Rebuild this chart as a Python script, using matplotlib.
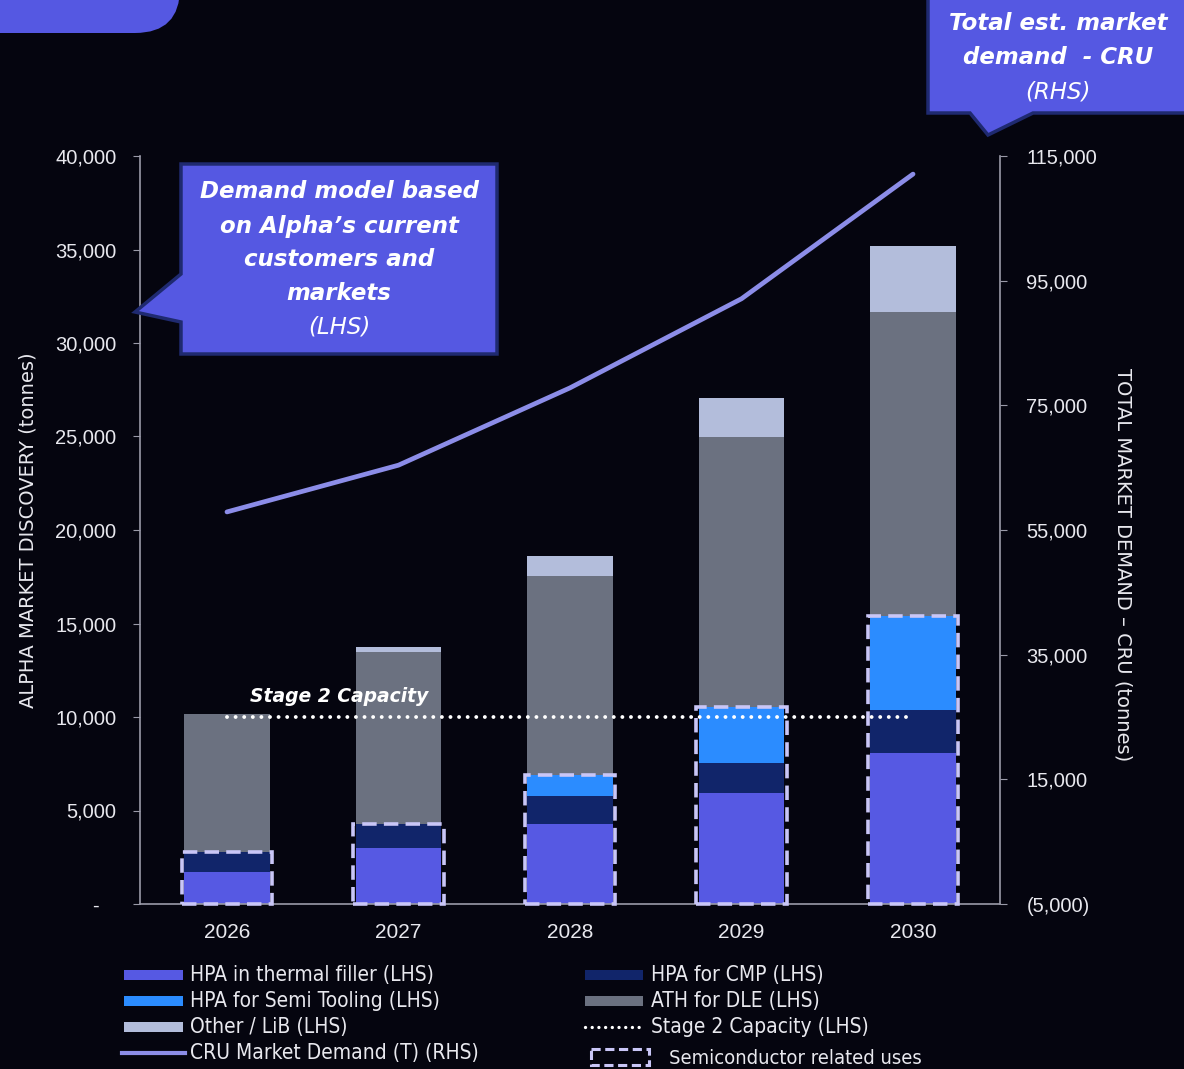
import numpy as np
import matplotlib.pyplot as plt
from matplotlib.patches import Rectangle, Polygon, FancyBboxPatch
from matplotlib.lines import Line2D
from matplotlib.transforms import Affine2D
from matplotlib.ticker import FuncFormatter

# data (tonnes)
years = ['2026', '2027', '2028', '2029', '2030']
hpa_thermal = [1700, 3000, 4300, 5950, 8050]
hpa_cmp = [1100, 1300, 1500, 1600, 2300]
hpa_semi = [0, 0, 1100, 3000, 5050]
ath_dle = [7350, 9150, 10650, 14450, 16250]
other_lib = [0, 270, 1050, 2050, 3550]
cru_demand = [57900, 65400, 77800, 92100, 112100]
stage2_capacity = 10000

BG = '#05050f'
C_THERMAL = '#5659e3'
C_CMP = '#11256a'
C_SEMI = '#2b8cff'
C_ATH = '#6b7180'
C_OTHER = '#b3bddb'
C_LINE = '#8c8de8'
C_LAV = '#c9c6f7'
C_AXIS = '#9a9aa8'
C_TXT = '#e8e8ee'
C_BOX = '#5558e2'
C_BOXEDGE = '#1f2a70'

W, H = 1184, 1069
fig = plt.figure(figsize=(W / 100, H / 100), dpi=100, facecolor=BG)
px = Affine2D().scale(1 / W, -1 / H).translate(0, 1) + fig.transFigure

ax = fig.add_axes([140 / W, 1 - 904 / H, 860 / W, 748 / H])
ax.set_facecolor(BG)

x = np.arange(len(years))
bw = 0.5
bottom = np.zeros(len(years))
for vals, col in [(hpa_thermal, C_THERMAL), (hpa_cmp, C_CMP), (hpa_semi, C_SEMI),
                  (ath_dle, C_ATH), (other_lib, C_OTHER)]:
    ax.bar(x, vals, bw, bottom=bottom, color=col, zorder=2)
    bottom = bottom + np.array(vals)

# dashed boxes round the semiconductor related uses
semi_top = np.array(hpa_thermal) + np.array(hpa_cmp) + np.array(hpa_semi)
for i, top in enumerate(semi_top):
    ax.add_patch(Rectangle((i - 0.265, 0), 0.53, top, fill=False, ec=C_LAV, lw=2.6,
                           ls=(0, (4, 2)), zorder=4, clip_on=False))

# stage 2 capacity
ax.plot([x[0], x[-1] - 0.03], [stage2_capacity] * 2, color='white', lw=2.8,
        ls=(0, (0.01, 2.2)), dash_capstyle='round', zorder=5)

ax.set_xlim(-0.507, len(years) - 1 + 0.507)
ax.set_ylim(0, 40000)
ax.set_yticks(np.arange(0, 40001, 5000))
ax.yaxis.set_major_formatter(FuncFormatter(lambda v, p: '-   ' if v == 0 else f'{v:,.0f}'))
ax.set_xticks(x)
ax.set_xticklabels(years)
ax.tick_params(axis='y', colors=C_AXIS, labelcolor=C_TXT, labelsize=14.5, length=5, pad=12)
ax.tick_params(axis='x', length=0, labelcolor=C_TXT, labelsize=15, pad=14)
for s in ['top', 'right']:
    ax.spines[s].set_visible(False)
ax.spines['left'].set_color(C_AXIS)
ax.spines['bottom'].set_color(C_AXIS)
ax.spines['left'].set_linewidth(1.2)
ax.spines['bottom'].set_linewidth(1.2)

ax2 = ax.twinx()
ax2.plot(x, cru_demand, color=C_LINE, lw=3.4, solid_capstyle='round', zorder=3)
ax2.set_ylim(-5000, 115000)
ax2.set_yticks(np.arange(-5000, 115001, 20000))
ax2.yaxis.set_major_formatter(FuncFormatter(
    lambda v, p: f'({abs(v):,.0f})' if v < 0 else f'{v:,.0f}'))
ax2.tick_params(axis='y', colors=C_AXIS, labelcolor=C_TXT, labelsize=14.5, length=5, pad=14)
for s in ['top', 'left', 'bottom']:
    ax2.spines[s].set_visible(False)
ax2.spines['right'].set_color(C_AXIS)
ax2.spines['right'].set_linewidth(1.2)

for t in ax.get_yticklabels() + ax.get_xticklabels() + ax2.get_yticklabels():
    t.set_family('Liberation Sans')

fig.text(28, 530, 'ALPHA MARKET DISCOVERY (tonnes)', transform=px, rotation=90,
         ha='center', va='center', color=C_TXT, fontsize=14)
fig.text(1123, 565, 'TOTAL MARKET DEMAND \u2013 CRU (tonnes)', transform=px, rotation=270,
         ha='center', va='center', color=C_TXT, fontsize=14)

fig.text(250, 696, 'Stage 2 Capacity', transform=px, ha='left', va='center',
         color='white', fontsize=13.5, fontweight='bold', style='italic')

# top-left decoration
fig.add_artist(FancyBboxPatch((-80, -80), 260, 113, boxstyle='round,pad=0,rounding_size=45',
                              transform=px, fc=C_BOX, ec='none'))

# callout 1 (LHS)
call1 = [(181, 164), (497, 164), (497, 354), (181, 354), (181, 322), (135, 312), (181, 274)]
fig.add_artist(Polygon(call1, closed=True, transform=px, fc=C_BOX, ec=C_BOXEDGE, lw=2.5))
for yy, s in zip([192, 226, 260, 293], ['Demand model based', 'on Alpha\u2019s current',
                                         'customers and', 'markets']):
    fig.text(339, yy, s, transform=px, ha='center', va='center', color='white',
             fontsize=16.5, fontweight='bold', style='italic')
fig.text(339, 327, '(LHS)', transform=px, ha='center', va='center', color='white',
         fontsize=16.5, style='italic')

# callout 2 (RHS)
call2 = [(928, -5), (1195, -5), (1195, 113), (1033, 113), (988, 135), (970, 113), (928, 113)]
fig.add_artist(Polygon(call2, closed=True, transform=px, fc=C_BOX, ec=C_BOXEDGE, lw=2.5))
for yy, s in zip([24, 58], ['Total est. market', 'demand  - CRU']):
    fig.text(1058, yy, s, transform=px, ha='center', va='center', color='white',
             fontsize=16.5, fontweight='bold', style='italic')
fig.text(1058, 92, '(RHS)', transform=px, ha='center', va='center', color='white',
         fontsize=16.5, style='italic')

# legend
LFONT = dict(color=C_TXT, fontsize=15, va='center', ha='left',
             family='DejaVu Sans', fontstretch='condensed')
rows = [975, 1001, 1027, 1053]
col1 = [('HPA in thermal filler (LHS)', C_THERMAL), ('HPA for Semi Tooling (LHS)', C_SEMI),
        ('Other / LiB (LHS)', C_OTHER)]
col2 = [('HPA for CMP (LHS)', C_CMP), ('ATH for DLE (LHS)', C_ATH)]
for yy, (lab, col) in zip(rows, col1):
    fig.add_artist(Rectangle((124, yy - 5), 59, 10, transform=px, fc=col, ec='none'))
    fig.text(190, yy, lab, transform=px, **LFONT)
for yy, (lab, col) in zip(rows, col2):
    fig.add_artist(Rectangle((585, yy - 5), 58, 10, transform=px, fc=col, ec='none'))
    fig.text(651, yy, lab, transform=px, **LFONT)
fig.add_artist(Line2D([122, 185], [rows[3]] * 2, transform=px, color=C_LINE, lw=3))
fig.text(190, rows[3], 'CRU Market Demand (T) (RHS)', transform=px, **LFONT)
fig.add_artist(Line2D([585, 643], [rows[2]] * 2, transform=px, color='white', lw=2.4,
                      ls=(0, (0.01, 2.0)), dash_capstyle='round'))
fig.text(651, rows[2], 'Stage 2 Capacity (LHS)', transform=px, **LFONT)
fig.add_artist(Rectangle((591, 1049), 58, 16, transform=px, fill=False, ec=C_LAV, lw=2.2,
                         ls=(0, (3, 1.5))))
fig.text(669, 1058, 'Semiconductor related uses', transform=px, fontsize=14.5,
         **{k: v for k, v in LFONT.items() if k != 'fontsize'})

fig.savefig('out.png', dpi=100, facecolor=BG)
